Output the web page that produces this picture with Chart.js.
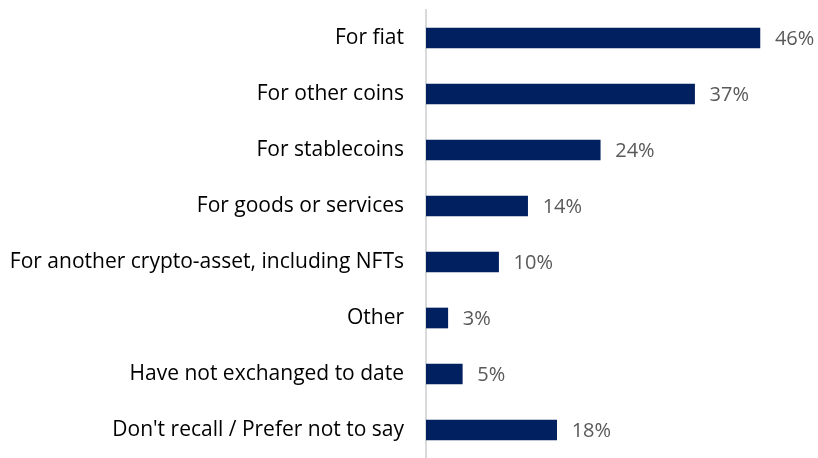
<!DOCTYPE html>
<html lang="en">
  <head>
    <meta charset="UTF-8" />
    <title>Exchanged crypto-assets</title>
    <script src="https://cdn.jsdelivr.net/npm/chart.js"></script>
    <style>
      html, body { margin: 0; padding: 0; background: #ffffff; }
    </style>
  </head>
  <body>
    <canvas id="barChart" width="818" height="458"></canvas>
    <script>
      // categories and shares (%)
      var categories = [
        "For fiat",
        "For other coins",
        "For stablecoins",
        "For goods or services",
        "For another crypto-asset, including NFTs",
        "Other",
        "Have not exchanged to date",
        "Don't recall / Prefer not to say",
      ];
      var shares = [46, 37, 24, 14, 10, 3, 5, 18];

      var labelFont = "'Open Sans', sans-serif";

      // value labels to the right of each bar
      var valueLabels = {
        id: "valueLabels",
        afterDatasetsDraw: function (chart) {
          var ctx = chart.ctx;
          var meta = chart.getDatasetMeta(0);
          ctx.save();
          ctx.fillStyle = "#595959";
          ctx.font = "20px " + labelFont;
          ctx.textAlign = "left";
          ctx.textBaseline = "middle";
          meta.data.forEach(function (bar, i) {
            ctx.fillText(shares[i] + "%", bar.x + 15, bar.y + 1);
          });
          ctx.restore();
        },
      };

      var ctx = document.getElementById("barChart").getContext("2d");
      new Chart(ctx, {
        type: "bar",
        data: {
          labels: categories,
          datasets: [
            {
              data: shares,
              backgroundColor: "#002060",
              barThickness: 20,
            },
          ],
        },
        options: {
          indexAxis: "y",
          responsive: false,
          animation: false,
          layout: { padding: { top: 10, right: 0, bottom: -3, left: 0 } },
          plugins: {
            legend: { display: false },
            tooltip: { enabled: false },
          },
          scales: {
            x: {
              display: false,
              min: 0,
              max: 54,
            },
            y: {
              afterFit: function (scale) {
                scale.width = 426;
                scale.paddingTop = 0;
                scale.paddingBottom = 0;
              },
              grid: { display: false, drawTicks: false },
              border: { display: true, color: "#d9d9d9", width: 2 },
              ticks: {
                color: "#000000",
                padding: 22,
                font: { family: labelFont, size: 21 },
              },
            },
          },
        },
        plugins: [valueLabels],
      });
    </script>
  </body>
</html>
